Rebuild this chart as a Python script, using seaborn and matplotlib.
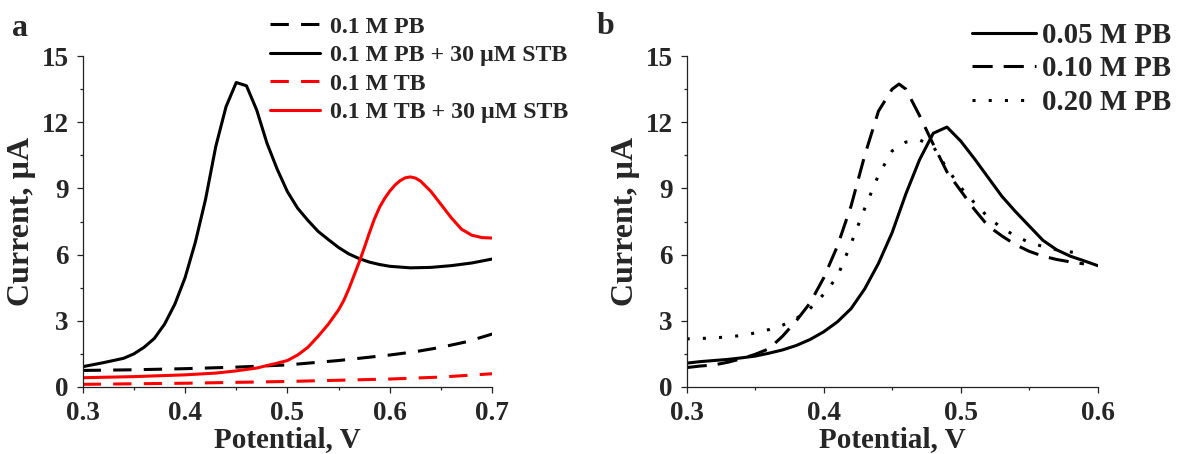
import numpy as np
import pandas as pd
import seaborn as sns
import matplotlib
matplotlib.use("Agg")
import matplotlib.pyplot as plt
from matplotlib.ticker import MultipleLocator

# ---------------- panel a: buffer comparison ----------------
pb_x = [0.30, 0.35, 0.40, 0.45, 0.50, 0.55, 0.60, 0.625, 0.65, 0.675, 0.70]
pb_y = [0.75, 0.78, 0.83, 0.90, 1.00, 1.20, 1.45, 1.60, 1.80, 2.05, 2.40]

pb_stb_x = [0.30, 0.32, 0.34, 0.35, 0.36, 0.37, 0.38, 0.39, 0.40, 0.41, 0.42,
            0.43, 0.44, 0.45, 0.46, 0.47, 0.48, 0.49, 0.50, 0.51, 0.52, 0.53,
            0.54, 0.55, 0.56, 0.57, 0.58, 0.59, 0.60, 0.62, 0.64, 0.66, 0.68,
            0.70]
pb_stb_y = [0.92, 1.10, 1.30, 1.50, 1.80, 2.20, 2.85, 3.75, 4.95, 6.55, 8.50,
            10.9, 12.7, 13.8, 13.65, 12.55, 11.05, 9.87, 8.85, 8.10, 7.55, 7.05,
            6.68, 6.32, 6.03, 5.82, 5.66, 5.55, 5.47, 5.40, 5.42, 5.50, 5.62,
            5.80]

tb_x = [0.30, 0.40, 0.50, 0.60, 0.65, 0.70]
tb_y = [0.12, 0.17, 0.25, 0.36, 0.45, 0.60]

tb_stb_x = [0.30, 0.35, 0.40, 0.43, 0.45, 0.47, 0.48, 0.49, 0.50, 0.51, 0.52,
            0.53, 0.54, 0.55, 0.555, 0.56, 0.565, 0.57, 0.575, 0.58, 0.585,
            0.59, 0.595, 0.60, 0.605, 0.61, 0.615, 0.62, 0.625, 0.63, 0.64,
            0.65, 0.66, 0.67, 0.68, 0.69, 0.70]
tb_stb_y = [0.42, 0.47, 0.55, 0.63, 0.73, 0.86, 0.97, 1.08, 1.20, 1.45, 1.80,
            2.30, 2.85, 3.50, 3.92, 4.45, 5.05, 5.65, 6.30, 6.98, 7.62,
            8.15, 8.55, 8.88, 9.15, 9.35, 9.48, 9.52, 9.47, 9.33, 8.87,
            8.27, 7.67, 7.15, 6.88, 6.77, 6.75]

labels_a = ["0.1 M PB", "0.1 M PB + 30 \u00b5M STB",
            "0.1 M TB", "0.1 M TB + 30 \u00b5M STB"]

# ---------------- panel b: PB concentration ----------------
c005_x = [0.30, 0.31, 0.32, 0.33, 0.34, 0.35, 0.36, 0.37, 0.38, 0.39, 0.40,
          0.41, 0.42, 0.43, 0.44, 0.45, 0.46, 0.47, 0.48, 0.49, 0.50, 0.51,
          0.52, 0.53, 0.54, 0.55, 0.56, 0.57, 0.58, 0.59, 0.60]
c005_y = [1.08, 1.15, 1.20, 1.25, 1.32, 1.40, 1.53, 1.68, 1.88, 2.15, 2.50,
          2.95, 3.55, 4.45, 5.60, 7.00, 8.75, 10.3, 11.5, 11.78, 11.15, 10.35,
          9.50, 8.65, 7.95, 7.30, 6.65, 6.22, 5.93, 5.72, 5.50]

c010_x = [0.30, 0.31, 0.32, 0.33, 0.34, 0.35, 0.36, 0.37, 0.38, 0.39, 0.40,
          0.41, 0.42, 0.43, 0.44, 0.45, 0.455, 0.46, 0.47, 0.48, 0.49, 0.50,
          0.51, 0.52, 0.53, 0.54, 0.55, 0.56, 0.57, 0.58, 0.59]
c010_y = [0.88, 0.95, 1.00, 1.12, 1.28, 1.48, 1.73, 2.30, 3.00, 3.80, 4.94,
          6.38, 8.20, 10.5, 12.5, 13.5, 13.73, 13.5, 12.3, 11.0, 9.75, 8.90,
          8.05, 7.30, 6.85, 6.45, 6.15, 5.93, 5.78, 5.67, 5.58]

c020_x = [0.30, 0.32, 0.34, 0.35, 0.36, 0.37, 0.38, 0.39, 0.40, 0.41, 0.42,
          0.43, 0.44, 0.45, 0.46, 0.47, 0.48, 0.49, 0.50, 0.51, 0.52, 0.53,
          0.54, 0.55, 0.56, 0.57, 0.58, 0.59]
c020_y = [2.18, 2.22, 2.33, 2.45, 2.60, 2.80, 3.10, 3.55, 4.20, 5.00, 6.50,
          8.10, 9.60, 10.7, 11.1, 11.2, 10.9, 9.90, 9.05, 8.35, 7.70, 7.20,
          6.85, 6.55, 6.37, 6.22, 6.12, 6.06]

labels_b = ["0.05 M PB", "0.10 M PB", "0.20 M PB"]

# ---------------- styling ----------------
sns.set_theme(style="ticks")
plt.rcParams["font.family"] = ["Liberation Serif", "DejaVu Serif"]
plt.rcParams["font.weight"] = "bold"
plt.rcParams["axes.labelweight"] = "bold"
plt.rcParams["lines.solid_joinstyle"] = "round"

LW = 2.2
DASH_A = (0, (6, 4))
DASH_B = (0, (6.6, 3.6))
DOT_B = (0, (1.0, 4.3))

fig = plt.figure(figsize=(11.79, 4.54), dpi=100)
ax_a = fig.add_axes([0.0701, 0.1476, 0.3474, 0.729])
ax_b = fig.add_axes([0.5824, 0.1476, 0.3486, 0.729])


def draw(ax, x, y, color, ls, label):
    df = pd.DataFrame({"x": x, "y": y})
    sns.lineplot(data=df, x="x", y="y", ax=ax, color=color, linestyle=ls,
                 linewidth=LW, label=label, errorbar=None, sort=True)


draw(ax_a, pb_x, pb_y, "black", DASH_A, labels_a[0])
draw(ax_a, pb_stb_x, pb_stb_y, "black", "-", labels_a[1])
draw(ax_a, tb_x, tb_y, "#ff0000", DASH_A, labels_a[2])
draw(ax_a, tb_stb_x, tb_stb_y, "#ff0000", "-", labels_a[3])

draw(ax_b, c005_x, c005_y, "black", "-", labels_b[0])
draw(ax_b, c010_x, c010_y, "black", DASH_B, labels_b[1])
draw(ax_b, c020_x, c020_y, "black", DOT_B, labels_b[2])


def style_axes(ax, xmax):
    ax.set_xlim(0.3, xmax)
    ax.set_ylim(0, 15)
    ax.xaxis.set_major_locator(MultipleLocator(0.1))
    ax.xaxis.set_minor_locator(MultipleLocator(0.05))
    ax.yaxis.set_major_locator(MultipleLocator(3))
    ax.yaxis.set_minor_locator(MultipleLocator(1.5))
    ax.xaxis.set_major_formatter(plt.FuncFormatter(lambda v, p: f"{v:.1f}"))
    ax.yaxis.set_major_formatter(plt.FuncFormatter(lambda v, p: f"{v:.0f}"))
    for s in ("top", "right"):
        ax.spines[s].set_visible(False)
    for s in ("left", "bottom"):
        ax.spines[s].set_linewidth(0.9)
        ax.spines[s].set_color("#222222")
    ax.tick_params(which="major", direction="out", length=4, width=0.9,
                   color="#222222", labelsize=19.5, pad=6)
    ax.tick_params(which="minor", direction="out", length=2.5, width=0.9,
                   color="#222222")
    for lab in ax.get_xticklabels() + ax.get_yticklabels():
        lab.set_fontweight("bold")
    ax.set_xlabel("Potential, V", fontsize=21, fontweight="bold", labelpad=0)
    ax.set_ylabel("Current, \u00b5A", fontsize=23, fontweight="bold", labelpad=4)


style_axes(ax_a, 0.7)
style_axes(ax_b, 0.6)

leg_a = ax_a.legend(loc="upper left", bbox_to_anchor=(270 / 1179, 1 - 16 / 454),
                    bbox_transform=fig.transFigure, frameon=False,
                    prop={"family": "Liberation Serif", "weight": "bold", "size": 17.2},
                    handlelength=2.1, handletextpad=0.4, labelspacing=0.28,
                    borderpad=0, borderaxespad=0)
leg_b = ax_b.legend(loc="upper left", bbox_to_anchor=(972 / 1179, 1 - 22 / 454),
                    bbox_transform=fig.transFigure, frameon=False,
                    prop={"family": "Liberation Serif", "weight": "bold", "size": 20.8},
                    handlelength=2.2, handletextpad=0.22, labelspacing=0.22,
                    borderpad=0, borderaxespad=0)

fig.text(12 / 1179, 1 - 29 / 454, "a", fontsize=23, fontweight="bold", va="center", ha="left")
fig.text(597 / 1179, 1 - 27 / 454, "b", fontsize=23, fontweight="bold", va="center", ha="left")

fig.savefig("out.png", dpi=100)
